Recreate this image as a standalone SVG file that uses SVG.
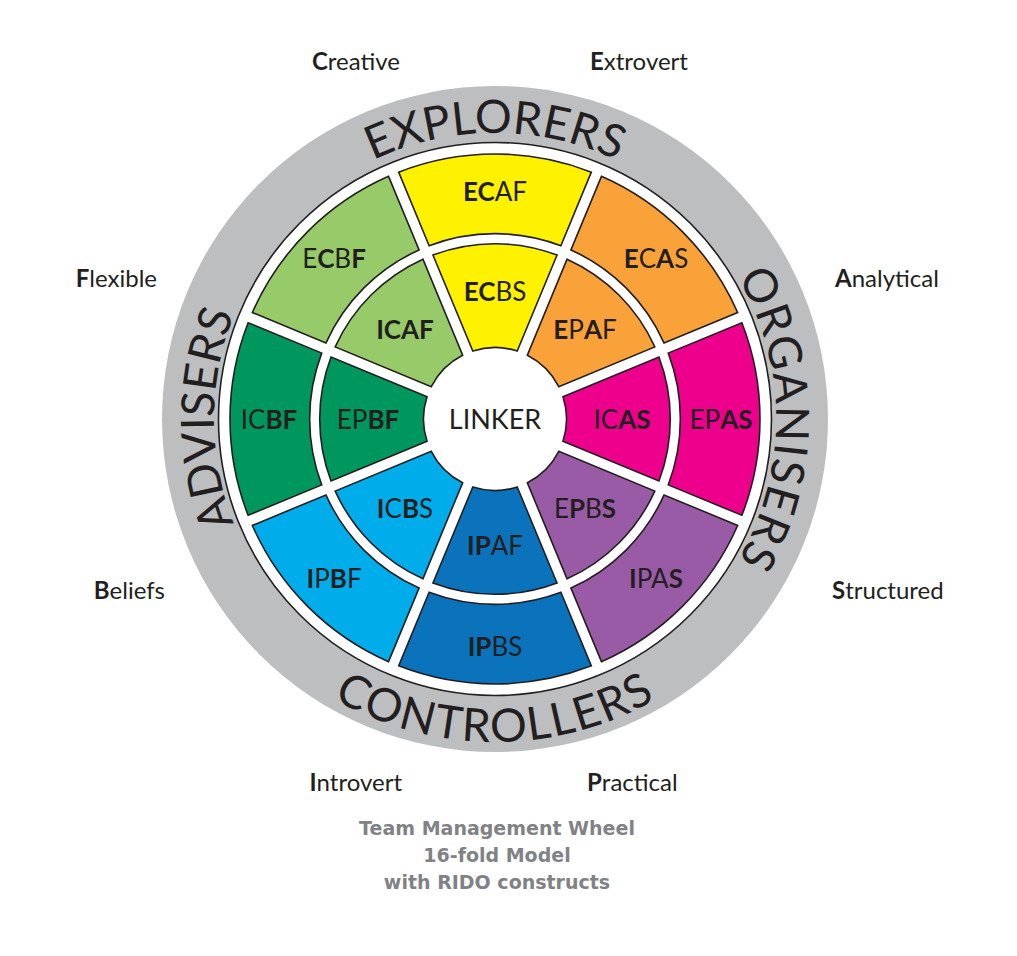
<svg xmlns="http://www.w3.org/2000/svg" width="1017" height="956" viewBox="0 0 1017 956">
<style>
.seg{stroke:#231f20;stroke-width:1.6;stroke-linejoin:miter}
.yel{fill:#fff200}.org{fill:#faa23a}.mag{fill:#ec008c}.pur{fill:#9a5ba6}
.dbl{fill:#0a73bc}.lbl{fill:#00acea}.dgr{fill:#00975f}.lgr{fill:#97cb6a}
.t{font-family:Lato,"Liberation Sans",Arial,sans-serif;font-size:26px;fill:#231f20;text-anchor:middle}
.b{font-weight:bold}
.big{font-family:Lato,"Liberation Sans",Arial,sans-serif;font-size:46px;fill:#231f20;text-anchor:middle}
.out{font-family:Lato,"Liberation Sans",Arial,sans-serif;font-size:24px;fill:#231f20}
.title{font-family:"DejaVu Sans",sans-serif;font-weight:bold;font-size:19px;fill:#808285;text-anchor:middle}
</style>
<defs>
<path id="segO" class="seg" d="M 398.69 172.13 A 265 265 0 0 1 591.31 172.13 L 560.87 245.74 A 185.5 185.5 0 0 0 429.13 245.74 Z"/>
<path id="segI" class="seg" d="M 432.96 255.04 A 175.5 175.5 0 0 1 557.04 255.04 L 517.20 351.03 A 71.5 71.5 0 0 0 472.80 351.03 Z"/>
<path id="arcTop" d="M 209 419 A 286 286 0 0 1 781 419"/>
<path id="arcRight" d="M 495 138 A 281 281 0 0 1 495 700"/>
<path id="arcLeft" d="M 495 700 A 281 281 0 0 1 495 138"/>
<path id="arcBottom" d="M 172 419 A 323 323 0 0 0 818 419"/>
</defs>
<rect width="1017" height="956" fill="#ffffff"/>
<g id="ring">
<circle cx="495" cy="419" r="333" fill="#bcbec0"/>
<circle cx="495" cy="419" r="276.5" fill="#ffffff" stroke="#231f20" stroke-width="1.6"/>
</g>
<g id="group-labels">
<text class="big"><textPath href="#arcTop" startOffset="50%">EXPLORERS</textPath></text>
<text class="big" style="letter-spacing:1.5px"><textPath href="#arcRight" startOffset="50%">ORGANISERS</textPath></text>
<text class="big"><textPath href="#arcLeft" startOffset="50%">ADVISERS</textPath></text>
<text class="big" style="letter-spacing:1.5px"><textPath href="#arcBottom" startOffset="50%">CONTROLLERS</textPath></text>
</g>
<g id="ECAF"><use href="#segO" class="yel"/><text class="t" x="495" y="201"><tspan class="b">EC</tspan>AF</text></g>
<g id="ECAS"><use href="#segO" class="org" transform="rotate(45 495 419)"/><text class="t" x="656" y="268"><tspan class="b">E</tspan>C<tspan class="b">A</tspan>S</text></g>
<g id="EPAS"><use href="#segO" class="mag" transform="rotate(90 495 419)"/><text class="t" x="721" y="429">EP<tspan class="b">AS</tspan></text></g>
<g id="IPAS"><use href="#segO" class="pur" transform="rotate(135 495 419)"/><text class="t" x="656" y="588"><tspan class="b">I</tspan>PA<tspan class="b">S</tspan></text></g>
<g id="IPBS"><use href="#segO" class="dbl" transform="rotate(180 495 419)"/><text class="t" x="495" y="656"><tspan class="b">IP</tspan>BS</text></g>
<g id="IPBF"><use href="#segO" class="lbl" transform="rotate(225 495 419)"/><text class="t" x="334" y="588"><tspan class="b">I</tspan>P<tspan class="b">B</tspan>F</text></g>
<g id="ICBF"><use href="#segO" class="dgr" transform="rotate(270 495 419)"/><text class="t" x="269" y="429">IC<tspan class="b">BF</tspan></text></g>
<g id="ECBF"><use href="#segO" class="lgr" transform="rotate(315 495 419)"/><text class="t" x="334" y="268">E<tspan class="b">C</tspan>B<tspan class="b">F</tspan></text></g>
<g id="ECBS"><use href="#segI" class="yel"/><text class="t" x="495" y="301"><tspan class="b">EC</tspan>BS</text></g>
<g id="EPAF"><use href="#segI" class="org" transform="rotate(45 495 419)"/><text class="t" x="585" y="339"><tspan class="b">E</tspan>P<tspan class="b">A</tspan>F</text></g>
<g id="ICAS"><use href="#segI" class="mag" transform="rotate(90 495 419)"/><text class="t" x="622" y="429">IC<tspan class="b">AS</tspan></text></g>
<g id="EPBS"><use href="#segI" class="pur" transform="rotate(135 495 419)"/><text class="t" x="585" y="518">E<tspan class="b">P</tspan>B<tspan class="b">S</tspan></text></g>
<g id="IPAF"><use href="#segI" class="dbl" transform="rotate(180 495 419)"/><text class="t" x="495" y="555"><tspan class="b">IP</tspan>AF</text></g>
<g id="ICBS"><use href="#segI" class="lbl" transform="rotate(225 495 419)"/><text class="t" x="405" y="518"><tspan class="b">I</tspan>C<tspan class="b">B</tspan>S</text></g>
<g id="EPBF"><use href="#segI" class="dgr" transform="rotate(270 495 419)"/><text class="t" x="368" y="429">EP<tspan class="b">BF</tspan></text></g>
<g id="ICAF"><use href="#segI" class="lgr" transform="rotate(315 495 419)"/><text class="t b" x="405" y="339">ICAF</text></g>
<g id="LINKER"><text class="t" x="495" y="429" style="font-size:27px">LINKER</text></g>
<g id="traits">
<text class="out" x="400" y="70" text-anchor="end"><tspan class="b">C</tspan>reative</text>
<text class="out" x="590" y="70"><tspan class="b">E</tspan>xtrovert</text>
<text class="out" x="157" y="287" text-anchor="end"><tspan class="b">F</tspan>lexible</text>
<text class="out" x="835" y="287"><tspan class="b">A</tspan>nalytical</text>
<text class="out" x="165" y="599" text-anchor="end"><tspan class="b">B</tspan>eliefs</text>
<text class="out" x="832" y="599"><tspan class="b">S</tspan>tructured</text>
<text class="out" x="402" y="791" text-anchor="end"><tspan class="b">I</tspan>ntrovert</text>
<text class="out" x="587" y="791"><tspan class="b">P</tspan>ractical</text>
</g>
<g id="title">
<text class="title" x="497" y="835">Team Management Wheel</text>
<text class="title" x="497" y="862">16-fold Model</text>
<text class="title" x="497" y="889">with RIDO constructs</text>
</g>
</svg>
